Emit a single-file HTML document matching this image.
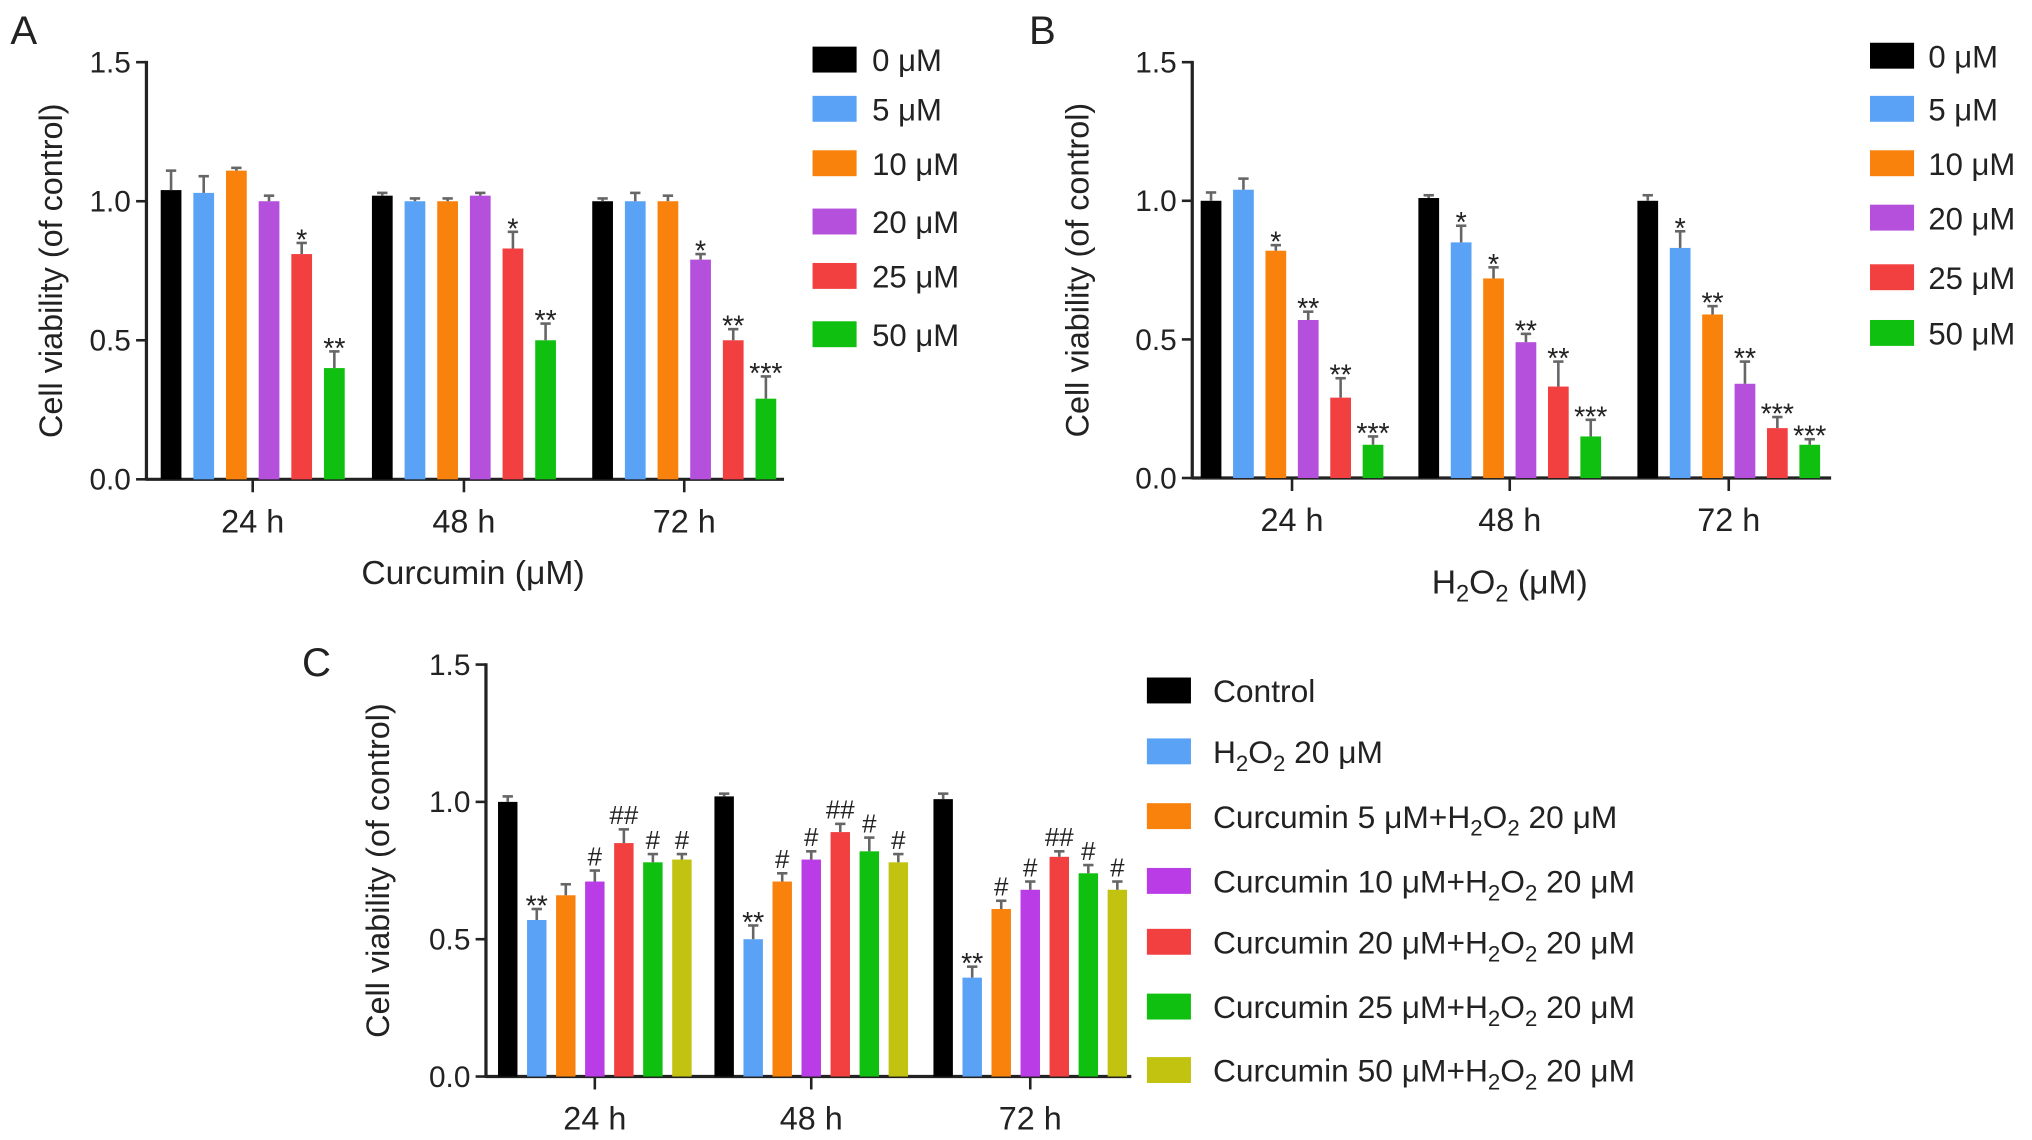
<!DOCTYPE html>
<html><head><meta charset="utf-8"><style>
html,body{margin:0;padding:0;background:#fff;}
svg{display:block;}
text{font-family:"Liberation Sans",Arial,sans-serif;fill:#222;}
</style></head><body>
<svg id="fig" width="2032" height="1140" viewBox="0 0 1568 880" preserveAspectRatio="none" xmlns="http://www.w3.org/2000/svg"></svg>
<script>
const groups = ["24 h","48 h","72 h"];
const yTicks = [0, 0.5, 1.0, 1.5];
const yTickLabels = ["0.0","0.5","1.0","1.5"];
const colorsAB = ["#000000","#5aa2f5","#f8820c","#b450dc","#f24040","#10c010"];
const colorsC = ["#000000","#5aa2f5","#f8820c","#b93ce6","#f24040","#10c010","#c2c210"];
const legendA = ["0 \u03bcM","5 \u03bcM","10 \u03bcM","20 \u03bcM","25 \u03bcM","50 \u03bcM"];
const legendC = ["Control","H2O2 20 \u03bcM","Curcumin 5 \u03bcM+H2O2 20 \u03bcM","Curcumin 10 \u03bcM+H2O2 20 \u03bcM","Curcumin 20 \u03bcM+H2O2 20 \u03bcM","Curcumin 25 \u03bcM+H2O2 20 \u03bcM","Curcumin 50 \u03bcM+H2O2 20 \u03bcM"];
// Panel A values [group][series]
const valuesA = [[1.04,1.03,1.11,1.00,0.81,0.40],[1.02,1.00,1.00,1.02,0.83,0.50],[1.00,1.00,1.00,0.79,0.50,0.29]];
const errorsA = [[0.07,0.06,0.01,0.02,0.04,0.06],[0.01,0.01,0.01,0.01,0.06,0.06],[0.01,0.03,0.02,0.02,0.04,0.08]];
const marksA = [["","","","","*","**"],["","","","","*","**"],["","","","*","**","***"]];
// Panel B
const valuesB = [[1.00,1.04,0.82,0.57,0.29,0.12],[1.01,0.85,0.72,0.49,0.33,0.15],[1.00,0.83,0.59,0.34,0.18,0.12]];
const errorsB = [[0.03,0.04,0.02,0.03,0.07,0.03],[0.01,0.06,0.04,0.03,0.09,0.06],[0.02,0.06,0.03,0.08,0.04,0.02]];
const marksB = [["","","*","**","**","***"],["","*","*","**","**","***"],["","*","**","**","***","***"]];
// Panel C
const valuesC = [[1.00,0.57,0.66,0.71,0.85,0.78,0.79],[1.02,0.50,0.71,0.79,0.89,0.82,0.78],[1.01,0.36,0.61,0.68,0.80,0.74,0.68]];
const errorsC = [[0.02,0.04,0.04,0.04,0.05,0.03,0.02],[0.01,0.05,0.03,0.03,0.03,0.05,0.03],[0.02,0.04,0.03,0.03,0.02,0.03,0.03]];
const marksC = [["","**","","#","##","#","#"],["","**","#","#","##","#","#"],["","**","#","#","##","#","#"]];

const NS="http://www.w3.org/2000/svg";
const svg=document.getElementById('fig');
function mk(tag,attrs,parent,txt){const e=document.createElementNS(NS,tag);for(const k in attrs)e.setAttribute(k,attrs[k]);if(txt!==undefined)e.textContent=txt;(parent||svg).appendChild(e);return e;}
function subText(parent,x,y,str,size,anchor){
  const t=mk('text',{x:x,y:y,'font-size':size,'text-anchor':anchor||'start'},parent);
  const parts=str.split(/(H2O2)/);
  let pending=0;
  parts.forEach(p=>{
    if(p==="H2O2"){
      mk('tspan',pending?{dy:pending}:{},t,'H'); pending=0;
      mk('tspan',{'font-size':size*0.7,dy:size*0.25},t,'2');
      mk('tspan',{dy:-size*0.25},t,'O');
      mk('tspan',{'font-size':size*0.7,dy:size*0.25},t,'2');
      pending=-size*0.25;
    } else if(p){ mk('tspan',pending?{dy:pending}:{},t,p); pending=0; }
  });
  return t;
}
function panel(cfg){
  const g=mk('g',{});
  
  
  const y=v=>cfg.y0+(cfg.y15-cfg.y0)*v/1.5;
  const ya=mk('line',{x1:cfg.ax,y1:cfg.y15-1,x2:cfg.ax,y2:cfg.y0+1,stroke:'#222','stroke-width':2.5},g);
  
  const xa=mk('line',{x1:cfg.ax,y1:cfg.y0,x2:cfg.xend,y2:cfg.y0,stroke:'#222','stroke-width':2.5},g);
  
  yTicks.forEach((v,i)=>{
    mk('line',{x1:cfg.ax-8,y1:y(v),x2:cfg.ax,y2:y(v),stroke:'#222','stroke-width':2},g);
    const t=mk('text',{x:cfg.ax-12,y:y(v)+8,'font-size':23,'text-anchor':'end'},g,yTickLabels[i]);
    
  });
  const n=cfg.values[0].length;
  groups.forEach((gn,gi)=>{
    const c=cfg.centers[gi];
    mk('line',{x1:c,y1:cfg.y0,x2:c,y2:cfg.y0+10,stroke:'#222','stroke-width':2},g);
    const t=mk('text',{x:c,y:cfg.y0+41,'font-size':25,'text-anchor':'middle'},g,gn);
    
    for(let s=0;s<n;s++){
      const v=cfg.values[gi][s],e=cfg.errors[gi][s];
      const bx=c+(s-(n-1)/2)*cfg.step;
      const r=mk('rect',{x:bx-cfg.bw/2,y:y(v),width:cfg.bw,height:cfg.y0-y(v),fill:cfg.colors[s]},g);
      
      mk('line',{x1:bx,y1:y(v),x2:bx,y2:y(v+e),stroke:'#666','stroke-width':2},g);
      mk('line',{x1:bx-4,y1:y(v+e),x2:bx+4,y2:y(v+e),stroke:'#666','stroke-width':2},g);
      const m=cfg.marks[gi][s];
      if(m){const a=mk('text',{x:bx,y:y(v+e)-(m[0]==='#'?4:-5),'font-size':m[0]==='#'?20:22,'text-anchor':'middle'},g,m);
        }
    }
  });
  const yl=mk('text',{x:0,y:0,'font-size':25,'text-anchor':'middle',transform:`translate(${cfg.ylx},${(cfg.y0+cfg.y15)/2}) rotate(-90)`},g,'Cell viability (of control)');
  
  cfg.legend.forEach((lab,i)=>{
    const ly=cfg.legY[i];
    const sw=mk('rect',{x:cfg.legX,y:ly-10,width:34,height:20,fill:cfg.colors[i]},g);
    
    const t=subText(g,cfg.legX+cfg.legGap,ly+9,lab,cfg.legSize);
    
  });
  return g;
}
panel({name:'panel-a',ax:113,y0:370,y15:48,xend:605,centers:[195,358,528],step:25.2,bw:16,values:valuesA,errors:errorsA,marks:marksA,colors:colorsAB,ylx:48,legend:legendA,legX:627,legGap:46,legSize:24,legY:[46,84,126,171,213,258]});
panel({name:'panel-b',ax:920,y0:369,y15:48,xend:1413,centers:[997,1165,1334],step:25,bw:16,values:valuesB,errors:errorsB,marks:marksB,colors:colorsAB,ylx:840,legend:legendA,legX:1443,legGap:45,legSize:24,legY:[43,84,126,168,214,257]});
panel({name:'panel-c',ax:375,y0:831,y15:513,xend:873,centers:[459,626,795],step:22.4,bw:15,values:valuesC,errors:errorsC,marks:marksC,colors:colorsC,ylx:300,legend:legendC,legX:885,legGap:51,legSize:24.5,legY:[533,580,630,680,727,777,826]});
const labs=[['A',8,34],['B',794,34],['C',233,522]];
labs.forEach(l=>{const t=mk('text',{x:l[1],y:l[2],'font-size':31},svg,l[0]);});
const xt1=mk('text',{x:365,y:451,'font-size':26,'text-anchor':'middle'},svg,'Curcumin (\u03bcM)');

const xt2=subText(svg,1165,458,'H2O2 (\u03bcM)',26,'middle');

</script>
</body></html>
